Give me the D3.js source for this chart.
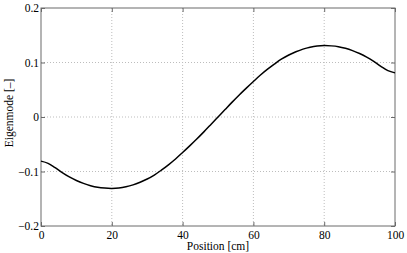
<!DOCTYPE html>
<meta charset="utf-8">
<title>Eigenmode</title>
<style>
  body { margin: 0; background: #fff; }
  svg text { font-family: "Liberation Serif", "Times New Roman", serif !important; font-size: 11.5px !important; fill: #000; }
  .grid line { stroke: #bdbdbd; stroke-dasharray: 1,2; stroke-width: 1; }
  .box { fill: none; stroke: #6a6a6a; stroke-width: 1; }
  .tick line { stroke: #6a6a6a; }
  .curve { fill: none; stroke: #000; stroke-width: 1.5; }
</style>
<body>
<script src="https://cdn.jsdelivr.net/npm/d3@7"></script>
<script>
  // positions along the beam [cm]
  var positions = [0, 2, 4, 6, 8, 10, 12, 14, 16, 18, 20, 22, 24, 26, 28, 30, 32, 34, 36, 38, 40,
                   42, 44, 46, 48, 50, 52, 54, 56, 58, 60, 62, 64, 66, 68, 70, 72, 74, 76, 78, 80,
                   82, 84, 86, 88, 90, 92, 94, 96, 98, 100];
  // eigenmode amplitude [-]
  var mode = [-0.081, -0.085, -0.093, -0.102, -0.110, -0.1165, -0.1218, -0.126, -0.129, -0.1305, -0.131,
              -0.1303, -0.1281, -0.1246, -0.1197, -0.1138, -0.1065, -0.0975, -0.0877, -0.0770, -0.0652,
              -0.0530, -0.0405, -0.0273, -0.0137, 0, 0.0137, 0.0273, 0.0405, 0.0530, 0.0652,
              0.0770, 0.0877, 0.0975, 0.1065, 0.1138, 0.1197, 0.1246, 0.1281, 0.1303, 0.131,
              0.1305, 0.129, 0.126, 0.1218, 0.1165, 0.110, 0.102, 0.093, 0.085, 0.081];
  var xTicks = [0, 20, 40, 60, 80, 100];
  var yTicks = [-0.2, -0.1, 0, 0.1, 0.2];

  var W = 407, H = 253;
  var margin = {top: 8, right: 12, bottom: 27, left: 41};
  var width = W - margin.left - margin.right,
      height = H - margin.top - margin.bottom;

  var svg = d3.select("body").append("svg")
      .attr("width", W)
      .attr("height", H);
  var g = svg.append("g")
      .attr("transform", "translate(" + margin.left + "," + margin.top + ")");

  var x = d3.scaleLinear().domain([0, 100]).range([0, width]);
  var y = d3.scaleLinear().domain([-0.2, 0.2]).range([height, 0]);

  var fmtY = function(d) { return d === 0 ? "0" : d3.format(".1f")(d).replace(/[-\u2212]/, "\u2212"); };

  // grid
  var grid = g.append("g").attr("class", "grid");
  grid.selectAll(".gx").data(xTicks.slice(1, -1)).enter().append("line")
      .attr("x1", x).attr("x2", x).attr("y1", 0).attr("y2", height);
  grid.selectAll(".gy").data(yTicks.slice(1, -1)).enter().append("line")
      .attr("y1", y).attr("y2", y).attr("x1", 0).attr("x2", width);

  // axes, ticks pointing inward
  g.append("g").attr("transform", "translate(0," + height + ")")
      .call(d3.axisBottom(x).tickValues(xTicks).tickSize(-4).tickPadding(5).tickFormat(d3.format("d")))
      .call(function(a) { a.select(".domain").remove(); });
  g.append("g")
      .call(d3.axisTop(x).tickValues(xTicks).tickSize(-4).tickFormat(""))
      .call(function(a) { a.select(".domain").remove(); });
  g.append("g")
      .call(d3.axisLeft(y).tickValues(yTicks).tickSize(-4).tickPadding(2).tickFormat(fmtY))
      .call(function(a) { a.select(".domain").remove(); });
  g.append("g").attr("transform", "translate(" + width + ",0)")
      .call(d3.axisRight(y).tickValues(yTicks).tickSize(-4).tickFormat(""))
      .call(function(a) { a.select(".domain").remove(); });

  g.append("rect").attr("class", "box")
      .attr("x", 0).attr("y", 0).attr("width", width).attr("height", height);

  // curve
  var line = d3.line()
      .x(function(d, i) { return x(positions[i]); })
      .y(function(d) { return y(d); })
      .curve(d3.curveCatmullRom);
  g.append("path").datum(mode).attr("class", "curve").attr("d", line);

  // labels
  svg.append("text")
      .attr("x", margin.left + width / 2).attr("y", H - 3)
      .attr("text-anchor", "middle")
      .text("Position [cm]");
  svg.append("text")
      .attr("transform", "translate(13," + (margin.top + height / 2 - 4) + ") rotate(-90)")
      .attr("text-anchor", "middle")
      .text("Eigenmode [\u2013]");
</script>
</body>
